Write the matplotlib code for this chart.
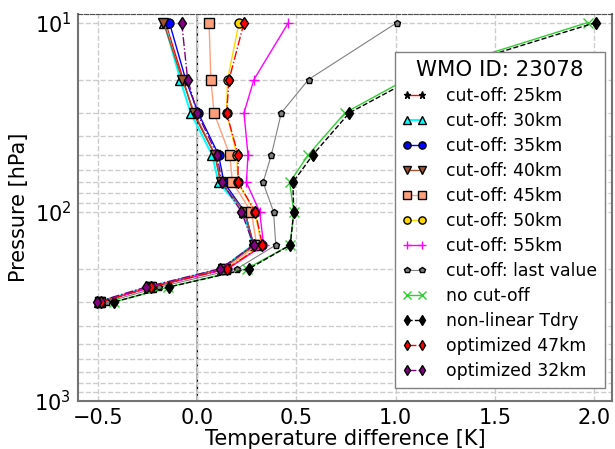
import numpy as np
import matplotlib
matplotlib.use('Agg')
import matplotlib.pyplot as plt

# pressure levels [hPa]
pres=[10,20,30,50,70,100,150,200,250,300]

cut25=[-0.16,-0.07,-0.02,0.089,0.118,0.235,0.28,0.13,-0.24,-0.49]
cut30=[-0.165,-0.085,-0.033,0.075,0.108,0.235,0.28,0.125,-0.245,-0.495]
cut35=[-0.14,-0.058,0.005,0.108,0.135,0.24,0.285,0.13,-0.24,-0.49]
cut40=[-0.17,-0.075,-0.015,0.09,0.12,0.24,0.285,0.13,-0.24,-0.49]
cut45=[0.06,0.069,0.085,0.164,0.178,0.273,0.3,0.14,-0.235,-0.488]
cut50=[0.211,0.153,0.148,0.2,0.205,0.29,0.325,0.15,-0.232,-0.486]
cut55=[0.46,0.286,0.236,0.256,0.248,0.315,0.335,0.155,-0.23,-0.485]
cutlast=[1.007,0.561,0.424,0.374,0.332,0.385,0.396,0.201,-0.191,-0.455]
nocut=[1.968,1.052,0.745,0.56,0.466,0.487,0.468,0.25,-0.145,-0.42]
nonlin=[2.008,1.08,0.767,0.583,0.482,0.487,0.469,0.261,-0.142,-0.418]
opt47=[0.236,0.161,0.148,0.206,0.206,0.293,0.329,0.151,-0.233,-0.486]
opt32=[-0.078,-0.048,0.0,0.1,0.125,0.223,0.285,0.117,-0.258,-0.506]

station='WMO ID: 23078'

fig=plt.figure(figsize=(6.15,4.49),dpi=100)
ax=fig.add_axes([0.127,0.107,0.868,0.862])

ax.grid(True,which='both',color='0.8',ls='--',lw=1)
ax.axvline(0,color='0.7',lw=1.5,zorder=1)
ax.axvline(0,color='k',ls='--',lw=0.8,zorder=1)

ms=6.5
ax.plot(cut25,pres,'-',color='r',marker='*',mfc='k',mec='k',ms=ms,lw=1,label='cut-off: 25km')
ax.plot(cut30,pres,'-',color='cyan',marker='^',mfc='cyan',mec='k',ms=ms,lw=1.5,label='cut-off: 30km')
ax.plot(cut35,pres,'-',color='b',marker='o',mfc='b',mec='k',ms=ms,lw=1,label='cut-off: 35km')
ax.plot(cut40,pres,'-',color='sienna',marker='v',mfc='sienna',mec='k',ms=ms,lw=1,label='cut-off: 40km')
ax.plot(cut45,pres,'-',color='lightsalmon',marker='s',mfc='lightsalmon',mec='k',ms=ms,lw=1,label='cut-off: 45km')
ax.plot(cut50,pres,'-',color='gold',marker='o',mfc='gold',mec='k',ms=ms,lw=1,label='cut-off: 50km')
ax.plot(cut55,pres,'-',color='magenta',marker='+',mfc='magenta',mec='magenta',ms=ms,lw=1,label='cut-off: 55km')
ax.plot(cutlast,pres,'-',color='gray',marker='p',mfc='gray',mec='k',ms=5,lw=0.8,label='cut-off: last value')
ax.plot(nocut,pres,'-',color='limegreen',marker='x',mfc='limegreen',mec='limegreen',ms=ms,lw=1,label='no cut-off')
ax.plot(nonlin,pres,'--',color='k',marker='d',mfc='k',mec='k',ms=ms,lw=1,label='non-linear Tdry')
ax.plot(opt47,pres,'-.',color='r',marker='d',mfc='r',mec='k',ms=ms,lw=1,label='optimized 47km')
ax.plot(opt32,pres,'-.',color='purple',marker='d',mfc='purple',mec='k',ms=ms,lw=1,label='optimized 32km')

ax.set_yscale('log')
ax.set_ylim(1000,9)
ax.set_xlim(-0.6,2.09)
ax.set_xticks([-0.5,0.0,0.5,1.0,1.5,2.0])
ax.tick_params(which='both',direction='in',length=0,labelsize=15,pad=5)

for s in ['left','bottom','right']:
	ax.spines[s].set_color('0.45')
	ax.spines[s].set_linewidth(1.5)
ax.spines['top'].set_color('0.3')
ax.spines['top'].set_linestyle('--')

ax.set_xlabel('Temperature difference [K]',fontsize=15,labelpad=1)
ax.set_ylabel('Pressure [hPa]',fontsize=15)

leg=ax.legend(loc='upper right',bbox_to_anchor=(0.987,0.902),borderaxespad=0,title=station,
	fontsize=12.4,title_fontsize=15.3,fancybox=False,framealpha=1,edgecolor='0.5',
	numpoints=2,markerscale=0.8,handlelength=1.45,handletextpad=1.1,labelspacing=0.41,
	borderpad=0.45)

fig.savefig('out.png',dpi=100)
